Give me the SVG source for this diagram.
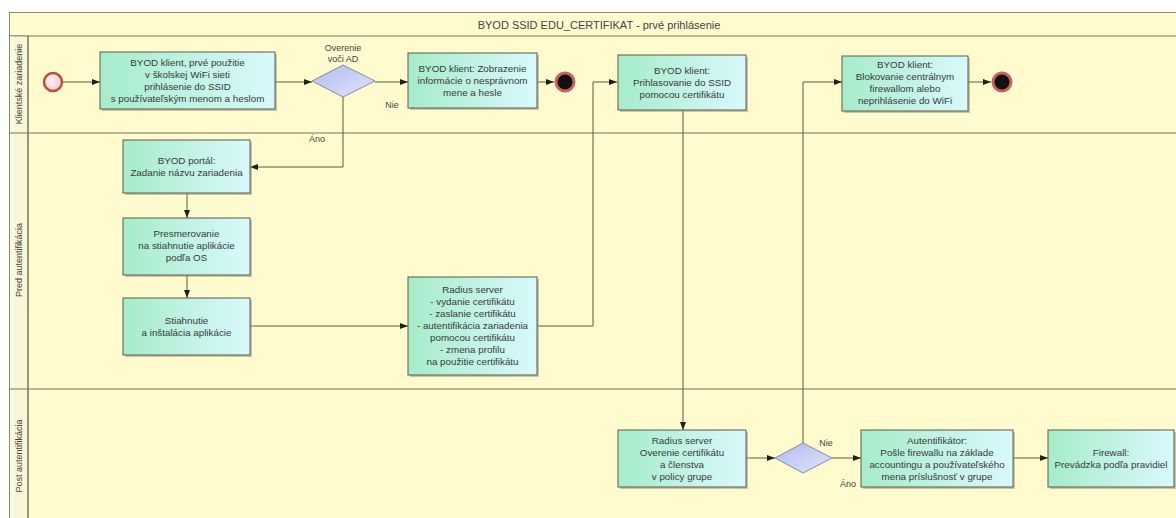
<svg xmlns="http://www.w3.org/2000/svg" width="1176" height="518" viewBox="0 0 1176 518">
  <style>
    .pool { fill: #fffbcf; stroke: #8c8c70; stroke-width: 1; }
    .lanecol { fill: #f9f8d6; stroke: #8c8c70; stroke-width: 1; }
    .lane { stroke: #77775a; stroke-width: 1.2; fill: none; }
    .task { fill: url(#taskFill); stroke: #5a5a4a; stroke-width: 1; }
    .shadow { fill: #9a9a80; opacity: 0.55; }
    .gw { fill: url(#gwFill); stroke: #8a8aa0; stroke-width: 1; }
    .t { font-family: "Liberation Sans", Arial, sans-serif; font-size: 9.8px; fill: #3a3a3a; text-anchor: middle; }
    .lbl { font-family: "Liberation Sans", Arial, sans-serif; font-size: 9px; fill: #444; text-anchor: middle; }
    .title { font-family: "Liberation Sans", Arial, sans-serif; font-size: 11px; fill: #444; text-anchor: middle; }
    .conn { fill: none; stroke: #5a5a40; stroke-width: 1; marker-end: url(#arrow); }
  </style>
  <defs>
    <linearGradient id="taskFill" x1="0" y1="0" x2="1" y2="0">
      <stop offset="0" stop-color="#a6ecca"/>
      <stop offset="1" stop-color="#d9f9fd"/>
    </linearGradient>
    <linearGradient id="gwFill" x1="0" y1="0" x2="1" y2="1">
      <stop offset="0" stop-color="#b2bbee"/>
      <stop offset="1" stop-color="#dfe5fb"/>
    </linearGradient>
    <radialGradient id="startFill" cx="0.4" cy="0.4" r="0.7">
      <stop offset="0" stop-color="#fdf0f2"/>
      <stop offset="1" stop-color="#efc8d0"/>
    </radialGradient>
    <marker id="arrow" viewBox="0 0 8 6" refX="8" refY="3" markerWidth="8" markerHeight="6" markerUnits="userSpaceOnUse" orient="auto">
      <path d="M0,0 L8,3 L0,6 z" fill="#202018"/>
    </marker>
  </defs>

  <rect width="1176" height="518" fill="#ffffff"/>

  <!-- pool with title band and lanes -->
  <g id="pool">
    <rect class="pool" x="9.5" y="12.5" width="1180" height="520"/>
    <line class="lane" x1="9.5" y1="36" x2="1176" y2="36"/>
    <rect class="lanecol" x="9.5" y="36" width="18.5" height="500"/>
    <line x1="12.5" y1="36" x2="12.5" y2="518" stroke="#ffffff" stroke-width="1.5" opacity="0.8"/>
    <line class="lane" x1="28" y1="36" x2="28" y2="518"/>
    <line class="lane" x1="9.5" y1="133" x2="1176" y2="133"/>
    <line class="lane" x1="9.5" y1="389" x2="1176" y2="389"/>
    <text class="title" x="599" y="29">BYOD SSID EDU_CERTIFIKAT - prvé prihlásenie</text>
    <text class="lbl" transform="translate(22,84) rotate(-90)">Klientské zariadenie</text>
    <text class="lbl" transform="translate(22,260) rotate(-90)">Pred autentifikácia</text>
    <text class="lbl" transform="translate(22,456) rotate(-90)">Post autentifikácia</text>
  </g>

  <!-- connectors -->
  <g id="connectors">
    <path class="conn" d="M62,82 H100"/>
    <path class="conn" d="M275,82 H312"/>
    <path class="conn" d="M375,82 H408"/>
    <path class="conn" d="M343,97 V167 H250"/>
    <path class="conn" d="M537,82 H554"/>
    <path class="conn" d="M187,193 V218"/>
    <path class="conn" d="M187,275 V298"/>
    <path class="conn" d="M250,326 H408"/>
    <path class="conn" d="M537,326 H593 V82 H617"/>
    <path class="conn" d="M683,110 V430"/>
    <path class="conn" d="M746,458 H775"/>
    <path class="conn" d="M803,443 V82 H842"/>
    <path class="conn" d="M832,458 H861"/>
    <path class="conn" d="M1013,458 H1048"/>
    <path class="conn" d="M968,82 H991"/>
    <text class="lbl" x="392" y="108">Nie</text>
    <text class="lbl" x="317" y="142">Áno</text>
    <text class="lbl" x="826" y="446">Nie</text>
    <text class="lbl" x="848" y="487">Áno</text>
  </g>

  <!-- events -->
  <g id="start">
    <circle cx="53" cy="82" r="9" fill="url(#startFill)" stroke="#b5503a" stroke-width="2.5"/>
  </g>
  <g id="end1">
    <circle cx="565" cy="82" r="9" fill="#111" stroke="#c86060" stroke-width="3"/>
  </g>
  <g id="end2">
    <circle cx="1002" cy="82" r="9" fill="#111" stroke="#c86060" stroke-width="3"/>
  </g>

  <!-- gateways -->
  <g id="gw-ad">
    <path class="gw" d="M312,81 L343,65 L375,81 L343,97 z"/>
    <text class="lbl" x="343" y="51">Overenie</text>
    <text class="lbl" x="343" y="62">voči AD</text>
  </g>
  <g id="gw-policy">
    <path class="gw" d="M775,458 L803,443 L832,458 L803,473 z"/>
  </g>

  <!-- tasks -->
  <g id="task-first-use">
    <rect class="shadow" x="102" y="54" width="175" height="57"/>
    <rect class="task" x="100" y="52" width="175" height="57"/>
    <text class="t" x="187.5" y="66">BYOD klient, prvé použitie</text>
    <text class="t" x="187.5" y="78">v školskej WiFi sieti</text>
    <text class="t" x="187.5" y="90">prihlásenie do SSID</text>
    <text class="t" x="187.5" y="102">s používateľským menom a heslom</text>
  </g>
  <g id="task-bad-login">
    <rect class="shadow" x="410" y="55" width="129" height="55"/>
    <rect class="task" x="408" y="53" width="129" height="55"/>
    <text class="t" x="472.5" y="72">BYOD klient: Zobrazenie</text>
    <text class="t" x="472.5" y="84">informácie o nesprávnom</text>
    <text class="t" x="472.5" y="96">mene a hesle</text>
  </g>
  <g id="task-cert-login">
    <rect class="shadow" x="620" y="57" width="128" height="55"/>
    <rect class="task" x="618" y="55" width="128" height="55"/>
    <text class="t" x="682" y="74">BYOD klient:</text>
    <text class="t" x="682" y="86">Prihlasovanie do SSID</text>
    <text class="t" x="682" y="98">pomocou certifikátu</text>
  </g>
  <g id="task-blocked">
    <rect class="shadow" x="844" y="58" width="126" height="55"/>
    <rect class="task" x="842" y="56" width="126" height="55"/>
    <text class="t" x="905" y="68">BYOD klient:</text>
    <text class="t" x="905" y="80">Blokovanie centrálnym</text>
    <text class="t" x="905" y="92">firewallom alebo</text>
    <text class="t" x="905" y="104">neprihlásenie do WiFi</text>
  </g>
  <g id="task-portal">
    <rect class="shadow" x="125" y="142" width="127" height="53"/>
    <rect class="task" x="123" y="140" width="127" height="53"/>
    <text class="t" x="186.5" y="164">BYOD portál:</text>
    <text class="t" x="186.5" y="176">Zadanie názvu zariadenia</text>
  </g>
  <g id="task-redirect">
    <rect class="shadow" x="125" y="220" width="127" height="57"/>
    <rect class="task" x="123" y="218" width="127" height="57"/>
    <text class="t" x="186.5" y="237">Presmerovanie</text>
    <text class="t" x="186.5" y="249">na stiahnutie aplikácie</text>
    <text class="t" x="186.5" y="261">podľa OS</text>
  </g>
  <g id="task-install">
    <rect class="shadow" x="125" y="300" width="127" height="57"/>
    <rect class="task" x="123" y="298" width="127" height="57"/>
    <text class="t" x="186.5" y="324">Stiahnutie</text>
    <text class="t" x="186.5" y="336">a inštalácia aplikácie</text>
  </g>
  <g id="task-radius-issue">
    <rect class="shadow" x="410" y="279" width="129" height="98"/>
    <rect class="task" x="408" y="277" width="129" height="98"/>
    <text class="t" x="472.5" y="293">Radius server</text>
    <text class="t" x="472.5" y="305">- vydanie certifikátu</text>
    <text class="t" x="472.5" y="317">- zaslanie certifikátu</text>
    <text class="t" x="472.5" y="329">- autentifikácia zariadenia</text>
    <text class="t" x="472.5" y="341">pomocou certifikátu</text>
    <text class="t" x="472.5" y="353">- zmena profilu</text>
    <text class="t" x="472.5" y="365">na použitie certifikátu</text>
  </g>
  <g id="task-radius-verify">
    <rect class="shadow" x="620" y="432" width="128" height="57"/>
    <rect class="task" x="618" y="430" width="128" height="57"/>
    <text class="t" x="682" y="444">Radius server</text>
    <text class="t" x="682" y="456">Overenie certifikátu</text>
    <text class="t" x="682" y="468">a členstva</text>
    <text class="t" x="682" y="480">v policy grupe</text>
  </g>
  <g id="task-authenticator">
    <rect class="shadow" x="863" y="432" width="152" height="57"/>
    <rect class="task" x="861" y="430" width="152" height="57"/>
    <text class="t" x="937" y="444">Autentifikátor:</text>
    <text class="t" x="937" y="456">Pošle firewallu na základe</text>
    <text class="t" x="937" y="468">accountingu a používateľského</text>
    <text class="t" x="937" y="480">mena príslušnosť v grupe</text>
  </g>
  <g id="task-firewall">
    <rect class="shadow" x="1050" y="432" width="126" height="57"/>
    <rect class="task" x="1048" y="430" width="126" height="57"/>
    <text class="t" x="1111" y="456">Firewall:</text>
    <text class="t" x="1111" y="468">Prevádzka podľa pravidiel</text>
  </g>
</svg>
